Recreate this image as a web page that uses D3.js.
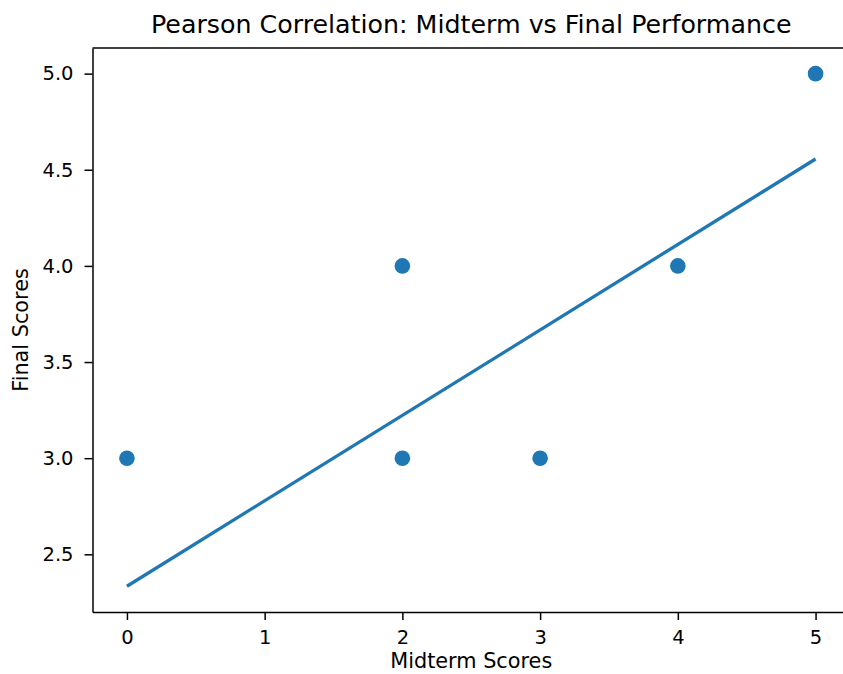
<!DOCTYPE html>
<html>
<head>
<meta charset="utf-8">
<script src="https://cdn.jsdelivr.net/npm/d3@7"></script>
<style>
  body { margin: 0; background: #fff; }
  svg text { font-family: "DejaVu Sans", sans-serif; fill: #000; }
</style>
</head>
<body>
<div id="root"></div>
<script>
// midterm vs final scores
var midterm = [0, 2, 2, 3, 4, 5];
var finals = [3, 4, 3, 3, 4, 5];
// fitted regression line
var fitX = [0, 5];
var fitY = [2.334, 4.556];
var xTicks = [0, 1, 2, 3, 4, 5];
var yTicks = [2.5, 3.0, 3.5, 4.0, 4.5, 5.0];

var width = 843, height = 674;
var margin = {top: 48, right: -7, bottom: 62, left: 92.5};

var svg = d3.select("#root").append("svg")
  .attr("width", width)
  .attr("height", height);

var x = d3.scaleLinear()
  .domain([-0.25, 5.25])
  .range([margin.left, width - margin.right]);

var y = d3.scaleLinear()
  .domain([2.2, 5.1333])
  .range([height - margin.bottom, margin.top]);

var blue = "#1f77b4";

// regression line
var line = d3.line()
  .x(function(d) { return x(d[0]); })
  .y(function(d) { return y(d[1]); });

svg.append("path")
  .datum(fitX.map(function(v, i) { return [v, fitY[i]]; }))
  .attr("d", line)
  .attr("fill", "none")
  .attr("stroke", blue)
  .attr("stroke-width", 3.3);

// points
svg.selectAll(".dot")
  .data(midterm)
  .enter()
  .append("circle")
  .attr("class", "dot")
  .attr("cx", function(d) { return x(d); })
  .attr("cy", function(d, i) { return y(finals[i]); })
  .attr("r", 7.8)
  .attr("fill", blue);

// axes
var xAxis = svg.append("g")
  .attr("transform", "translate(0," + (height - margin.bottom) + ")")
  .call(d3.axisBottom(x).tickValues(xTicks).tickFormat(d3.format("d")).tickSizeInner(8).tickSizeOuter(0).tickPadding(10));

var yAxis = svg.append("g")
  .attr("transform", "translate(" + margin.left + ",0)")
  .call(d3.axisLeft(y).tickValues(yTicks).tickFormat(d3.format(".1f")).tickSizeInner(8).tickSizeOuter(0).tickPadding(11));

[xAxis, yAxis].forEach(function(a) {
  a.selectAll("text").attr("font-size", "19.5px").attr("font-family", "DejaVu Sans").attr("fill", "#000");
  a.selectAll("line").attr("stroke", "#000").attr("stroke-width", 1.5);
  a.select(".domain").attr("stroke", "#000").attr("stroke-width", 1.5);
});

// top spine
svg.append("line")
  .attr("x1", margin.left).attr("x2", width)
  .attr("y1", margin.top).attr("y2", margin.top)
  .attr("stroke", "#000").attr("stroke-width", 1.5);

// title
svg.append("text")
  .attr("x", (x(-0.25) + x(5.25)) / 2)
  .attr("y", 33)
  .attr("text-anchor", "middle")
  .attr("font-size", "25.3px")
  .text("Pearson Correlation: Midterm vs Final Performance");

svg.append("text")
  .attr("x", (x(-0.25) + x(5.25)) / 2)
  .attr("y", 668)
  .attr("text-anchor", "middle")
  .attr("font-size", "20.8px")
  .text("Midterm Scores");

svg.append("text")
  .attr("transform", "translate(28," + ((margin.top + height - margin.bottom) / 2) + ")rotate(-90)")
  .attr("text-anchor", "middle")
  .attr("font-size", "20.8px")
  .text("Final Scores");
</script>
</body>
</html>
